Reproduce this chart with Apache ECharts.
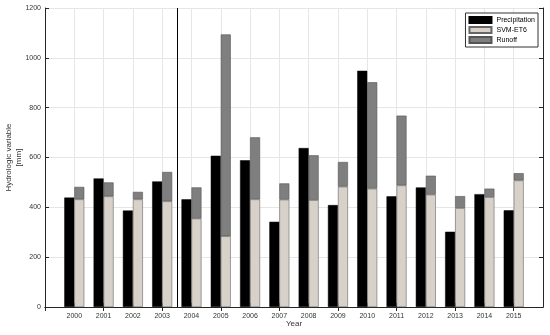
<!DOCTYPE html>
<html><head><meta charset="utf-8">
<script src="https://cdn.jsdelivr.net/npm/echarts@6/dist/echarts.min.js"></script>
<style>html,body{margin:0;padding:0;background:#fff}#c{width:550px;height:335px}</style>
</head><body><div id="c"></div>
<script>
const years = [2000,2001,2002,2003,2004,2005,2006,2007,2008,2009,2010,2011,2012,2013,2014,2015];
const precipitation = [439,516,387,504,432,607,589,342,638,409,948,444,480,302,453,388];
const svmEt6 = [432,444,432,424,355,284,432,431,429,483,475,488,451,397,441,508];
const runoff = [50,56,30,118,125,810,249,65,180,99,427,280,76,48,34,29];
const yTicks = [0,200,400,600,800,1000,1200];
const dividerYear = 2003.5;
const xMin = 1999, xMax = 2016;

// full category list (padded one year each side, labels blank there)
const cats = [];
for (let y = xMin; y <= xMax; y++) cats.push(String(y));
const pad = arr => [null].concat(arr, [null]);

const font = 'Liberation Sans, Arial, sans-serif';
const axisCol = '#262626';
const chart = echarts.init(document.getElementById('c'));
const tick = {show:true, inside:true, length:4, lineStyle:{color:axisCol}};
const aline = {show:true, lineStyle:{color:axisCol, width:1}};
const yBase = {
  type:'value', min:yTicks[0], max:yTicks[yTicks.length-1], interval:yTicks[1]-yTicks[0],
  axisLine:aline, axisTick:tick, splitLine:{show:false}
};
chart.setOption({
  animation:false,
  grid:{left:45, right:7, top:8, bottom:28, containLabel:false, outerBoundsMode:'none'},
  legend:{
    orient:'vertical', right:12, top:13,
    itemWidth:22, itemHeight:6, itemGap:2, icon:'rect',
    padding:[3,3,3,3],
    borderColor:'#333', borderWidth:1, backgroundColor:'#fff',
    textStyle:{fontSize:7, fontFamily:font, color:'#000'},
    data:['Precipitation','SVM-ET6','Runoff']
  },
  xAxis:[
    {type:'category', data:cats, boundaryGap:false, position:'bottom',
      name:'Year', nameLocation:'middle', nameGap:13, nameMoveOverlap:false,
      nameTextStyle:{fontSize:8, fontFamily:font, color:'#333'},
      axisLine:aline, axisTick:Object.assign({}, tick, {alignWithLabel:true}),
      splitLine:{show:true, lineStyle:{color:'#e6e6e6', width:1}},
      axisLabel:{fontSize:7, fontFamily:font, color:'#333', margin:6, interval:0,
        formatter:v => (v===String(xMin)||v===String(xMax))?'':v}},
    {type:'category', data:cats, boundaryGap:false, position:'top',
      axisLine:aline, axisTick:tick, axisLabel:{show:false}, splitLine:{show:false}},
    {type:'value', min:xMin, max:xMax, show:false}
  ],
  yAxis:[
    Object.assign({}, yBase, {
      position:'left', name:'Hydrologic variable\n[mm]', nameLocation:'middle', nameGap:21,
      nameMoveOverlap:false,
      nameTextStyle:{fontSize:8, fontFamily:font, color:'#333', lineHeight:10},
      splitLine:{show:true, lineStyle:{color:'#e6e6e6', width:1}},
      axisLabel:{fontSize:7, fontFamily:font, color:'#333', margin:4, formatter:v=>String(v)}
    }),
    Object.assign({}, yBase, {position:'right', axisLabel:{show:false}})
  ],
  series:[
    {name:'Precipitation', type:'bar', xAxisIndex:0, yAxisIndex:0, barWidth:10, barGap:'0%',
     itemStyle:{color:'#000', borderColor:'#000', borderWidth:0.5},
     data:pad(precipitation)},
    {name:'SVM-ET6', type:'bar', stack:'et', xAxisIndex:0, yAxisIndex:0, barWidth:10, barGap:'0%',
     itemStyle:{color:'#d8d1c9', borderColor:'#666', borderWidth:0.6},
     data:pad(svmEt6)},
    {name:'Runoff', type:'bar', stack:'et', xAxisIndex:0, yAxisIndex:0, barWidth:10, barGap:'0%',
     itemStyle:{color:'#7f7f7f', borderColor:'#555', borderWidth:0.6},
     data:pad(runoff)},
    {name:'divider', type:'line', xAxisIndex:2, yAxisIndex:0, data:[], silent:true,
     markLine:{silent:true, symbol:'none', label:{show:false},
       lineStyle:{color:'#000', width:1, type:'solid'},
       data:[{xAxis:dividerYear}]}}
  ]
});
</script></body></html>
